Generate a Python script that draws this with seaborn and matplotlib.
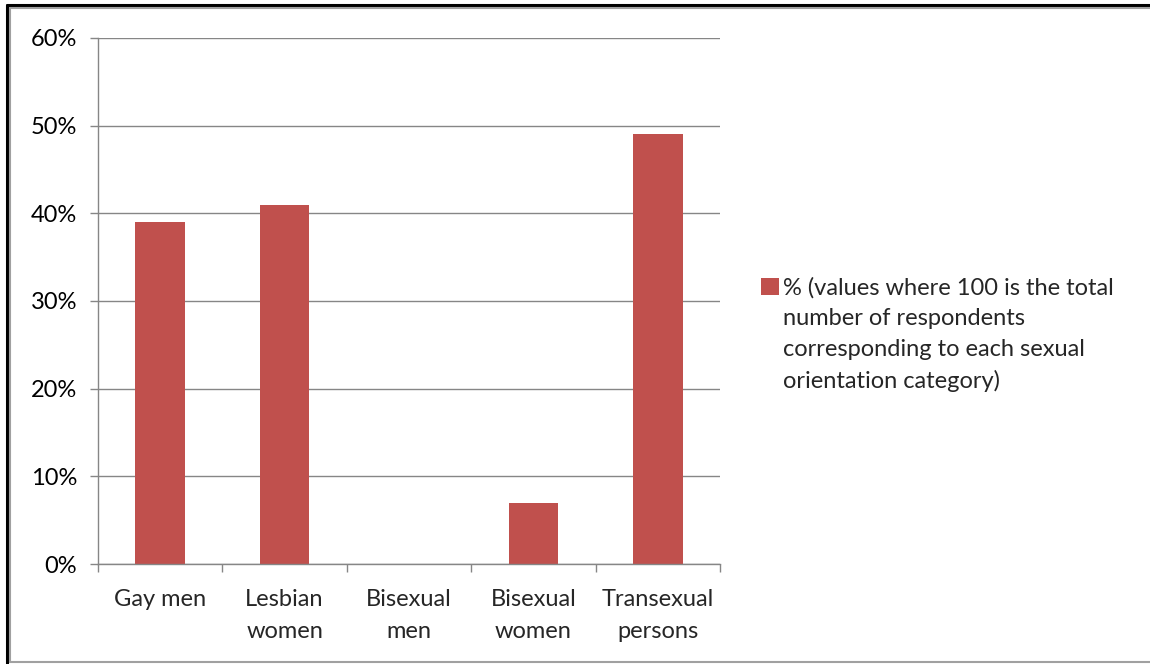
import matplotlib
matplotlib.use("Agg")
import matplotlib.pyplot as plt
import matplotlib.lines as mlines
import seaborn as sns
import pandas as pd

categories = ["Gay men", "Lesbian\nwomen", "Bisexual\nmen", "Bisexual\nwomen", "Transexual\npersons"]
values = [39, 41, 0, 7, 49]
series_label = ("% (values where 100 is the total\nnumber of respondents\n"
                "corresponding to each sexual\norientation category)")
y_ticks = [0, 10, 20, 30, 40, 50, 60]

sns.set_theme(style="white")
plt.rcParams["font.family"] = ["Lato", "DejaVu Sans"]

df = pd.DataFrame({"category": categories, "value": values})

fig = plt.figure(figsize=(11.5, 6.64), dpi=100)
ax = fig.add_axes([0.0852, 0.1506, 0.5409, 0.7922])

sns.barplot(data=df, x="category", y="value", color="#C0504D", width=0.4,
            saturation=1, ax=ax, label=series_label, linewidth=0)

ax.set_ylim(0, 60)
ax.set_xlim(-0.5, len(categories) - 0.5)
ax.set_yticks(y_ticks)
ax.set_yticklabels([f"{t}%" for t in y_ticks], fontsize=17, color="#000000")
ax.yaxis.grid(True, color="#868686", linewidth=1)
ax.set_axisbelow(True)

# major ticks on category boundaries, labels on minor ticks at the centres
ax.set_xticks([i - 0.5 for i in range(len(categories) + 1)])
ax.set_xticklabels([])
ax.set_xticks(range(len(categories)), minor=True)
ax.set_xticklabels(categories, minor=True, fontsize=17, linespacing=1.65)
ax.tick_params(axis="x", which="major", length=6, width=1, color="#868686", direction="out", bottom=True)
ax.tick_params(axis="x", which="minor", length=0, pad=18)
ax.tick_params(axis="y", length=6, width=1, color="#868686", direction="out", left=True, pad=9)
ax.set_xlabel("")
ax.set_ylabel("")

for side in ["top", "right"]:
    ax.spines[side].set_visible(False)
for side in ["left", "bottom"]:
    ax.spines[side].set_color("#868686")
    ax.spines[side].set_linewidth(1)

leg = ax.legend(loc="upper left", bbox_to_anchor=(0.662, 0.582), bbox_transform=fig.transFigure,
                frameon=False, fontsize=17, handlelength=0.75, handleheight=0.75,
                handletextpad=0.15, labelspacing=0, borderpad=0, borderaxespad=0)
for t in leg.get_texts():
    t.set_linespacing(1.55)
# put the square next to the first line of the label
for col in leg._legend_handle_box.get_children():
    for row in col.get_children():
        row.align = "top"

# outer frame of the picture
fig.add_artist(mlines.Line2D([0.006, 0.006], [0, 0.992], transform=fig.transFigure, color="black", linewidth=2.2))
fig.add_artist(mlines.Line2D([0.006, 1], [0.992, 0.992], transform=fig.transFigure, color="black", linewidth=2.2))
fig.add_artist(mlines.Line2D([0.009, 0.009], [0.003, 0.988], transform=fig.transFigure, color="#A0A0A0", linewidth=1.5))
fig.add_artist(mlines.Line2D([0.009, 1], [0.988, 0.988], transform=fig.transFigure, color="#A0A0A0", linewidth=1.5))
fig.add_artist(mlines.Line2D([0.009, 1], [0.003, 0.003], transform=fig.transFigure, color="#A0A0A0", linewidth=1.5))

fig.savefig("out.png", dpi=100)
